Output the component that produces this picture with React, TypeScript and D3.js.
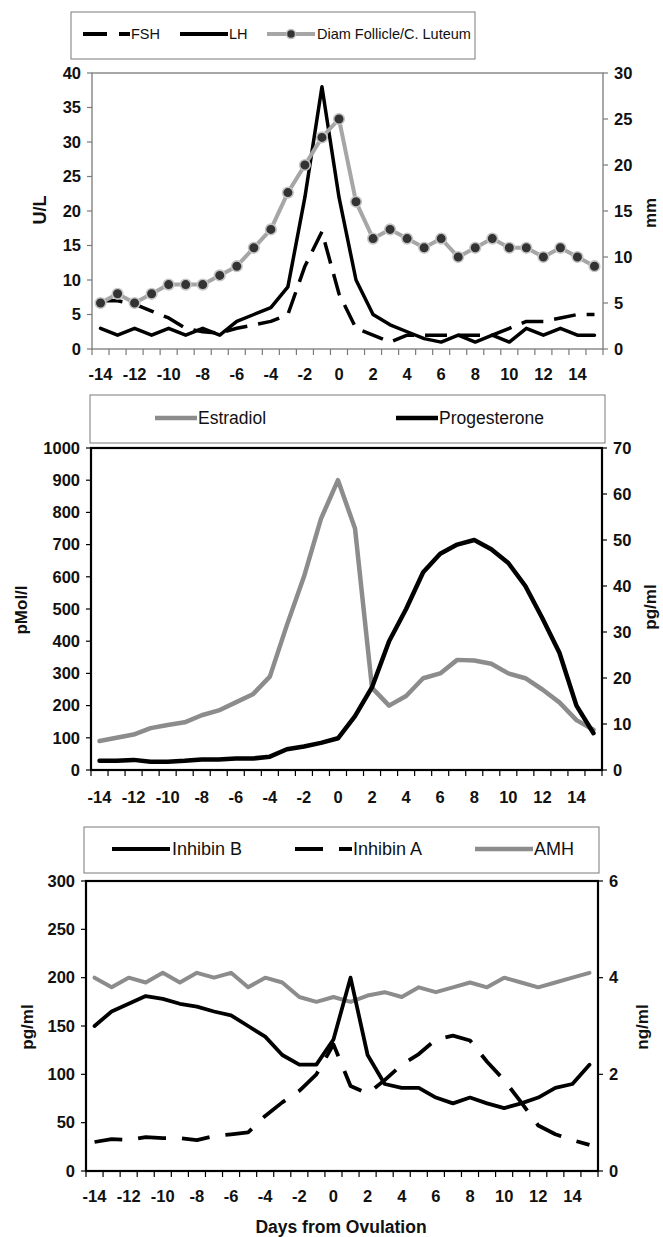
import React from 'react';
import * as d3 from 'd3';

const days = [-14, -13, -12, -11, -10, -9, -8, -7, -6, -5, -4, -3, -2, -1, 0, 1, 2, 3, 4, 5, 6, 7, 8, 9, 10, 11, 12, 13, 14, 15];
const xTickLabels = [-14, -12, -10, -8, -6, -4, -2, 0, 2, 4, 6, 8, 10, 12, 14];

// Panel 1 (U/L left, mm right)
const fsh = [7, 7, 6.5, 5.5, 4.5, 3, 2.5, 2.3, 3, 3.5, 4, 5, 12, 17, 8, 3, 2, 1, 2, 2, 2, 2, 2, 2, 3, 4, 4, 4.5, 5, 5];
const lh = [3, 2, 3, 2, 3, 2, 3, 2, 4, 5, 6, 9, 22, 38, 22, 10, 5, 3.5, 2.5, 1.5, 1, 2, 1, 2, 1, 3, 2, 3, 2, 2];
const diam = [5, 6, 5, 6, 7, 7, 7, 8, 9, 11, 13, 17, 20, 23, 25, 16, 12, 13, 12, 11, 12, 10, 11, 12, 11, 11, 10, 11, 10, 9];
const p1LeftTicks = [0, 5, 10, 15, 20, 25, 30, 35, 40];
const p1RightTicks = [0, 5, 10, 15, 20, 25, 30];

// Panel 2 (pMol/l left, pg/ml right)
const estradiol = [90, 100, 110, 130, 140, 148, 170, 185, 210, 235, 290, 450, 600, 780, 900, 750, 255, 200, 230, 285, 300, 342, 340, 330, 300, 285, 250, 210, 155, 125];
const progesterone = [2, 2, 2.2, 1.8, 1.8, 2, 2.3, 2.3, 2.5, 2.5, 2.9, 4.5, 5.1, 5.9, 6.9, 11.7, 18, 28, 35, 43, 47, 49, 50, 48, 45, 40, 33, 25.5, 14, 8];
const p2LeftTicks = [0, 100, 200, 300, 400, 500, 600, 700, 800, 900, 1000];
const p2RightTicks = [0, 10, 20, 30, 40, 50, 60, 70];

// Panel 3 (pg/ml left, ng/ml right)
const inhibinB = [150, 165, 173, 181, 178, 173, 170, 165, 161, 150, 139, 120, 110, 110, 136, 200, 120, 90, 86, 86, 76, 70, 76, 70, 65, 70, 76, 86, 90, 110];
const inhibinA = [30, 33, 32, 35, 34, 34, 32, 36, 38, 40, 57, 71, 83, 100, 131, 88, 80, 94, 110, 121, 136, 140, 135, 113, 94, 71, 47, 38, 32, 27];
const amh = [4.0, 3.8, 4.0, 3.9, 4.1, 3.9, 4.1, 4.0, 4.1, 3.8, 4.0, 3.9, 3.6, 3.5, 3.6, 3.5, 3.63, 3.7, 3.6, 3.8, 3.7, 3.8, 3.9, 3.8, 4.0, 3.9, 3.8, 3.9, 4.0, 4.1];
const p3LeftTicks = [0, 50, 100, 150, 200, 250, 300];
const p3RightTicks = [0, 2, 4, 6];

const FONT = '"Liberation Sans", Arial, Helvetica, sans-serif';
const GRAY = '#8c8c8c';

type Series = {
  values: number[];
  axis: 'L' | 'R';
  color: string;
  width: number;
  dash?: string;
  markers?: boolean;
};

type LegendItem = {
  label: string;
  x0: number;
  x1: number;
  tx: number;
  color: string;
  width: number;
  dash?: string;
  marker?: boolean;
};

type PanelCfg = {
  l: number; r: number; t: number; b: number;
  leftDomain: [number, number];
  rightDomain: [number, number];
  leftTicks: number[];
  rightTicks: number[];
  series: Series[];
  xLabelY: number;
  frameColor: string;
  frameWidth: number;
  tickFont: number;
  leftTitle: { text: string; x: number; y: number; size: number };
  rightTitle: { text: string; x: number; y: number; size: number };
  legend: { x: number; y: number; w: number; h: number; cy: number; font: number; items: LegendItem[] };
};

function Panel({ p }: { p: PanelCfg }) {
  const x = d3.scaleBand<number>().domain(days).range([p.l, p.r]);
  const cx = (d: number) => (x(d) as number) + x.bandwidth() / 2;
  const yL = d3.scaleLinear().domain(p.leftDomain).range([p.b, p.t]);
  const yR = d3.scaleLinear().domain(p.rightDomain).range([p.b, p.t]);
  const boundaries = [...days.map((d) => x(d) as number), p.r];

  return (
    <g>
      {/* legend */}
      <rect x={p.legend.x} y={p.legend.y} width={p.legend.w} height={p.legend.h} fill="white" stroke="#7a7a7a" strokeWidth={1} />
      {p.legend.items.map((it) => (
        <g key={it.label}>
          <line x1={it.x0} x2={it.x1} y1={p.legend.cy} y2={p.legend.cy} stroke={it.color} strokeWidth={it.width} strokeDasharray={it.dash} />
          {it.marker && (
            <circle cx={(it.x0 + it.x1) / 2} cy={p.legend.cy} r={4.5} fill="#333" stroke="#bdbdbd" strokeWidth={1.5} />
          )}
          <text x={it.tx} y={p.legend.cy} dy="0.35em" fontFamily={FONT} fontSize={p.legend.font} fill="#111">
            {it.label}
          </text>
        </g>
      ))}

      {/* frame */}
      <rect x={p.l} y={p.t} width={p.r - p.l} height={p.b - p.t} fill="none" stroke={p.frameColor} strokeWidth={p.frameWidth} />

      {/* left axis ticks */}
      {p.leftTicks.map((v) => (
        <g key={'l' + v}>
          <line x1={p.l - 5} x2={p.l} y1={yL(v)} y2={yL(v)} stroke={p.frameColor} strokeWidth={1.2} />
          <text x={p.l - 11} y={yL(v)} dy="0.35em" textAnchor="end" fontFamily={FONT} fontWeight="bold" fontSize={p.tickFont} fill="#111">
            {v}
          </text>
        </g>
      ))}
      {/* right axis ticks */}
      {p.rightTicks.map((v) => (
        <g key={'r' + v}>
          <line x1={p.r} x2={p.r + 5} y1={yR(v)} y2={yR(v)} stroke={p.frameColor} strokeWidth={1.2} />
          <text x={p.r + 11} y={yR(v)} dy="0.35em" textAnchor="start" fontFamily={FONT} fontWeight="bold" fontSize={p.tickFont} fill="#111">
            {v}
          </text>
        </g>
      ))}
      {/* bottom ticks */}
      {boundaries.map((bx, i) => (
        <line key={'b' + i} x1={bx} x2={bx} y1={p.b} y2={p.b + 6} stroke={p.frameColor} strokeWidth={1.2} />
      ))}
      {xTickLabels.map((d) => (
        <text key={'x' + d} x={cx(d)} y={p.xLabelY} textAnchor="middle" fontFamily={FONT} fontWeight="bold" fontSize={p.tickFont} fill="#111">
          {d}
        </text>
      ))}

      {/* axis titles */}
      <text transform={`translate(${p.leftTitle.x},${p.leftTitle.y}) rotate(-90)`} dy="0.35em" textAnchor="middle" fontFamily={FONT} fontWeight="bold" fontSize={p.leftTitle.size} fill="#111">
        {p.leftTitle.text}
      </text>
      <text transform={`translate(${p.rightTitle.x},${p.rightTitle.y}) rotate(-90)`} dy="0.35em" textAnchor="middle" fontFamily={FONT} fontWeight="bold" fontSize={p.rightTitle.size} fill="#111">
        {p.rightTitle.text}
      </text>

      {/* series */}
      {p.series.map((s, si) => {
        const y = s.axis === 'L' ? yL : yR;
        const gen = d3
          .line<number>()
          .x((_, i) => cx(days[i]))
          .y((v) => y(v));
        return (
          <g key={'s' + si}>
            <path d={gen(s.values) || ''} fill="none" stroke={s.color} strokeWidth={s.width} strokeDasharray={s.dash} strokeLinejoin="round" strokeLinecap={s.dash ? 'butt' : 'round'} />
            {s.markers &&
              s.values.map((v, i) => (
                <circle key={i} cx={cx(days[i])} cy={y(v)} r={5.3} fill="#333" stroke="#c4c4c4" strokeWidth={1.6} />
              ))}
          </g>
        );
      })}
    </g>
  );
}

const panel1: PanelCfg = {
  l: 92, r: 603, t: 73, b: 349,
  leftDomain: [0, 40], rightDomain: [0, 30],
  leftTicks: p1LeftTicks, rightTicks: p1RightTicks,
  series: [
    { values: fsh, axis: 'L', color: '#000', width: 3.5, dash: '22,11' },
    { values: lh, axis: 'L', color: '#000', width: 3.5 },
    { values: diam, axis: 'R', color: '#a6a6a6', width: 4, markers: true },
  ],
  xLabelY: 380,
  frameColor: '#7a7a7a', frameWidth: 1.3,
  tickFont: 16.5,
  leftTitle: { text: 'U/L', x: 40, y: 210, size: 18 },
  rightTitle: { text: 'mm', x: 650, y: 213, size: 17 },
  legend: {
    x: 71, y: 12, w: 404, h: 47, cy: 34, font: 14.5,
    items: [
      { label: 'FSH', x0: 83, x1: 130, tx: 131, color: '#000', width: 4, dash: '24,12' },
      { label: 'LH', x0: 180, x1: 228, tx: 229, color: '#000', width: 4 },
      { label: 'Diam Follicle/C. Luteum', x0: 267, x1: 315, tx: 317, color: '#a6a6a6', width: 4, marker: true },
    ],
  },
};

const panel2: PanelCfg = {
  l: 91, r: 602, t: 448, b: 770,
  leftDomain: [0, 1000], rightDomain: [0, 70],
  leftTicks: p2LeftTicks, rightTicks: p2RightTicks,
  series: [
    { values: estradiol, axis: 'L', color: GRAY, width: 4.5 },
    { values: progesterone, axis: 'R', color: '#000', width: 4.5 },
  ],
  xLabelY: 803,
  frameColor: '#000', frameWidth: 2.2,
  tickFont: 16.5,
  leftTitle: { text: 'pMol/l', x: 21, y: 610, size: 17 },
  rightTitle: { text: 'pg/ml', x: 650, y: 607, size: 17 },
  legend: {
    x: 90, y: 395, w: 515, h: 48, cy: 418, font: 17.5,
    items: [
      { label: 'Estradiol', x0: 155, x1: 197, tx: 198, color: GRAY, width: 4.5 },
      { label: 'Progesterone', x0: 396, x1: 438, tx: 439, color: '#000', width: 4.5 },
    ],
  },
};

const panel3: PanelCfg = {
  l: 86, r: 598, t: 881, b: 1171,
  leftDomain: [0, 300], rightDomain: [0, 6],
  leftTicks: p3LeftTicks, rightTicks: p3RightTicks,
  series: [
    { values: amh, axis: 'R', color: GRAY, width: 4 },
    { values: inhibinA, axis: 'L', color: '#000', width: 3.8, dash: '28,16' },
    { values: inhibinB, axis: 'L', color: '#000', width: 3.8 },
  ],
  xLabelY: 1202,
  frameColor: '#000', frameWidth: 2.2,
  tickFont: 16.5,
  leftTitle: { text: 'pg/ml', x: 27, y: 1027, size: 17 },
  rightTitle: { text: 'ng/ml', x: 642, y: 1027, size: 17 },
  legend: {
    x: 84, y: 827, w: 515, h: 46, cy: 849, font: 18,
    items: [
      { label: 'Inhibin B', x0: 112, x1: 170, tx: 172, color: '#000', width: 4 },
      { label: 'Inhibin A', x0: 295, x1: 352, tx: 353, color: '#000', width: 4, dash: '28,16' },
      { label: 'AMH', x0: 475, x1: 533, tx: 534, color: GRAY, width: 4.5 },
    ],
  },
};

export default function App() {
  return (
    <svg width={663} height={1237} style={{ position: 'absolute', left: 0, top: 0, background: 'white' }}>
      <rect x={0} y={0} width={663} height={1237} fill="white" />
      <Panel p={panel1} />
      <Panel p={panel2} />
      <Panel p={panel3} />
      <text x={341} y={1233} textAnchor="middle" fontFamily={FONT} fontWeight="bold" fontSize={17.5} fill="#111">
        Days from Ovulation
      </text>
    </svg>
  );
}
